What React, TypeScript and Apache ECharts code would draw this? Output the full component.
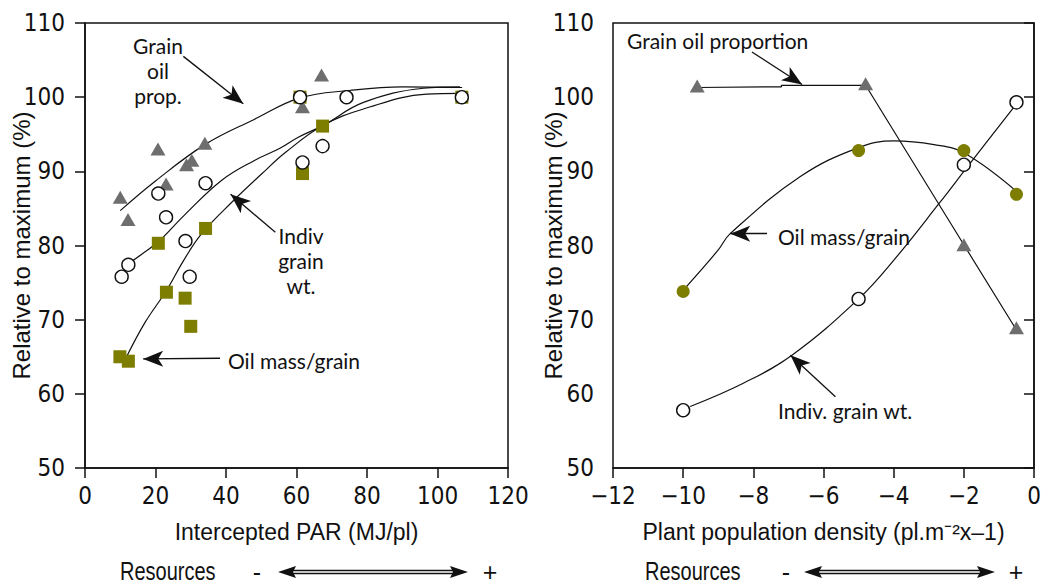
import React, { useEffect, useRef } from 'react';
import * as echarts from 'echarts';

// ---------- tick labels ----------
const leftXTicks = ['0', '20', '40', '60', '80', '100', '120'];
const rightXTicks = ['\u221212', '\u221210', '\u22128', '\u22126', '\u22124', '\u22122', '0'];
const yTicks = ['50', '60', '70', '80', '90', '100', '110'];

// ---------- left panel: intercepted PAR ----------
const parOilPropPts = [
  [10, 86.5], [12.2, 83.5], [20.7, 93], [23, 88.3], [28.8, 90.9], [30.3, 91.5],
  [34, 93.8], [61.7, 98.7], [67.1, 103],
];
const parGrainWtPts = [
  [10.4, 75.8], [12.3, 77.4], [20.8, 87], [23, 83.8], [28.5, 80.6], [29.7, 75.8],
  [34.2, 88.4], [61, 100], [74.2, 100], [61.7, 91.2], [67.4, 93.4], [106.9, 100],
];
const parOilMassPts = [
  [9.9, 65], [12.3, 64.4], [20.8, 80.3], [23.1, 73.7], [28.4, 72.9], [30, 69.1],
  [34.2, 82.3], [61, 100], [61.7, 89.7], [67.4, 96.1], [106.9, 100],
];
const parOilPropCurve = [
  [10, 84.7], [20, 88.7], [34, 93.6], [48, 97], [61, 99.9], [75, 100.9], [90, 101.4], [107, 101.3],
];
const parGrainWtCurve = [
  [11.3, 77.2], [16, 78.8], [20.8, 80.5], [28, 84], [38.8, 88.8], [48.2, 91.5],
  [55.3, 93.1], [60.5, 94.6], [67.6, 96.2], [79, 99.3], [96, 101.2], [106.4, 101.4],
];
const parOilMassCurve = [
  [11.8, 65], [17, 69.6], [23.2, 74], [28, 78], [33.1, 81.6], [42, 86], [50, 89.6],
  [57, 92.6], [67.6, 96.2], [79, 98.4], [96.9, 100.4], [106.4, 100.5],
];

// ---------- right panel: plant population density ----------
const densOilPropPts = [[-9.6, 101.5], [-4.8, 101.8], [-2, 80.1], [-0.5, 68.9]];
const densGrainWtPts = [[-10, 57.8], [-5, 72.8], [-2, 90.9], [-0.5, 99.3]];
const densOilMassPts = [[-10, 73.8], [-5, 92.8], [-2, 92.8], [-0.5, 86.9]];
const densOilPropCurve = [[-9.6, 101.3], [-7.2, 101.4], [-7.2, 101.6], [-4.8, 101.6], [-2, 80.1], [-0.5, 68.6]];
const densGrainWtCurve = [
  [-9.8, 58.3], [-8.3, 61.4], [-6.9, 65.2], [-5, 72.8], [-4, 78], [-2.7, 85.7], [-1.9, 90.6], [-0.5, 99.1],
];
const densOilMassCurve = [
  [-9.9, 74.5], [-9, 79.4], [-8.66, 81.6], [-6.66, 89.3], [-5, 93.2], [-4, 94.1],
  [-2.85, 93.6], [-2, 92.5], [-0.5, 87.3],
];

const NARROW = "'Liberation Sans Narrow', 'Arial Narrow', 'DejaVu Sans Condensed', sans-serif";
const SANS = "'Liberation Sans', Arial, sans-serif";
const HUMAN = "Lato, 'Open Sans', sans-serif";
const OLIVE = '#7d7d00';
const GRAY = '#6e6e6e';
const INK = '#111';

function arrowLine(x1: number, y1: number, x2: number, y2: number) {
  return [{ coord: [x1, y1] }, { coord: [x2, y2] }];
}

function resourcesArrow(xText: number, xMinus: number, x1: number, x2: number, xPlus: number, y: number) {
  const font = `25px ${SANS}`;
  const els: any[] = [
    { type: 'text', x: xText, y, scaleX: 0.8, style: { text: 'Resources', font, fill: INK, align: 'left', verticalAlign: 'middle' } },
    { type: 'text', x: xMinus, y, style: { text: '-', font, fill: INK, align: 'center', verticalAlign: 'middle' } },
    { type: 'text', x: xPlus, y, style: { text: '+', font, fill: INK, align: 'center', verticalAlign: 'middle' } },
    { type: 'line', shape: { x1: x1 + 12, y1: y - 1.5, x2: x2 - 12, y2: y - 1.5 }, style: { stroke: INK, lineWidth: 1.3 } },
    { type: 'line', shape: { x1: x1 + 12, y1: y + 1.5, x2: x2 - 12, y2: y + 1.5 }, style: { stroke: INK, lineWidth: 1.3 } },
    { type: 'polygon', shape: { points: [[x1, y], [x1 + 18, y - 6], [x1 + 15, y], [x1 + 18, y + 6]] }, style: { fill: INK } },
    { type: 'polygon', shape: { points: [[x2, y], [x2 - 18, y - 6], [x2 - 15, y], [x2 - 18, y + 6]] }, style: { fill: INK } },
  ];
  return els;
}

function annot(x: number, y: number, text: string, align: string) {
  return {
    type: 'text', x, y,
    style: { text, font: `21px ${HUMAN}`, fill: INK, align, verticalAlign: 'middle', lineHeight: 25 },
  };
}

export default function App() {
  const ref = useRef<HTMLDivElement>(null);
  useEffect(() => {
    if (!ref.current) return;
    const chart = echarts.init(ref.current, undefined, { renderer: 'svg' });
    const axisLine = { show: true, lineStyle: { color: INK, width: 1.5 } };
    const axisTick = { show: true, inside: false, length: 10, lineStyle: { color: INK, width: 1.5 } };
    const tickLabel = (labels: string[], min: number, step: number, margin: number) => ({
      show: true, margin, color: INK, fontSize: 24, fontFamily: NARROW,
      formatter: (v: number) => labels[Math.round((v - min) / step)] ?? String(v),
    });
    const curveStyle = { color: INK, width: 1.2 };
    const markArrow = (lines: any[]) => ({
      silent: true, symbol: ['none', 'arrow'], symbolSize: [12, 20],
      label: { show: false }, lineStyle: { color: INK, width: 1.3, type: 'solid' },
      emphasis: { disabled: true }, data: lines, animation: false,
    });
    const curve = (data: number[][], xi: number, smooth: boolean | number, mark?: any) => ({
      type: 'line', data, xAxisIndex: xi, yAxisIndex: xi, smooth, symbol: 'none',
      lineStyle: curveStyle, silent: true, z: 2, ...(mark ? { markLine: mark } : {}),
    });
    const scatter = (data: number[][], xi: number, symbol: string, size: any, fill: string, border?: string, z = 3) => ({
      type: 'scatter', data, xAxisIndex: xi, yAxisIndex: xi, symbol, symbolSize: size, z,
      itemStyle: { color: fill, borderColor: border ?? fill, borderWidth: border ? 1.4 : 0, opacity: 1 },
      silent: true,
    });

    const gridBase = {
      top: 23, height: 445, show: true, borderColor: INK, borderWidth: 1.5,
      backgroundColor: 'transparent', containLabel: false, outerBoundsMode: 'none',
    };

    chart.setOption({
      animation: false,
      backgroundColor: '#fff',
      grid: [
        { ...gridBase, left: 85, width: 423 },
        { ...gridBase, left: 613, width: 421 },
      ],
      xAxis: [
        {
          gridIndex: 0, type: 'value', min: 0, max: 120, interval: 20,
          name: 'Intercepted PAR (MJ/pl)', nameLocation: 'middle', nameGap: 52,
          nameTextStyle: { color: INK, fontSize: 23, fontFamily: SANS },
          axisLine, axisTick, axisLabel: tickLabel(leftXTicks, 0, 20, 16), splitLine: { show: false },
        },
        {
          gridIndex: 1, type: 'value', min: -12, max: 0, interval: 2,
          name: 'Plant population density (pl.m\u207B\u00B2x\u20131)', nameLocation: 'middle', nameGap: 52,
          nameTextStyle: { color: INK, fontSize: 23, fontFamily: SANS },
          axisLine, axisTick, axisLabel: tickLabel(rightXTicks, -12, 2, 16), splitLine: { show: false },
        },
      ],
      yAxis: [
        {
          gridIndex: 0, type: 'value', min: 50, max: 110, interval: 10,
          name: 'Relative to maximum (%)', nameLocation: 'middle', nameGap: 52, nameMoveOverlap: false,
          nameTextStyle: { color: INK, fontSize: 24, fontFamily: SANS },
          axisLine, axisTick, axisLabel: tickLabel(yTicks, 50, 10, 20), splitLine: { show: false },
        },
        {
          gridIndex: 1, type: 'value', min: 50, max: 110, interval: 10,
          name: 'Relative to maximum (%)', nameLocation: 'middle', nameGap: 48, nameMoveOverlap: false,
          nameTextStyle: { color: INK, fontSize: 24, fontFamily: SANS },
          axisLine, axisTick, axisLabel: tickLabel(yTicks, 50, 10, 19), splitLine: { show: false },
        },
      ],
      series: [
        curve(parOilPropCurve, 0, 0.4, markArrow([arrowLine(27.9, 105.5, 44.9, 99.1)])),
        curve(parGrainWtCurve, 0, 0.4, markArrow([arrowLine(54, 81.8, 41.3, 86.9)])),
        curve(parOilMassCurve, 0, 0.4, markArrow([arrowLine(38.3, 64.8, 16.5, 64.7)])),
        scatter(parOilMassPts, 0, 'rect', 13, OLIVE),
        scatter(parOilPropPts, 0, 'triangle', [15, 13], GRAY),
        scatter(parGrainWtPts, 0, 'circle', 13, '#fff', INK, 4),

        curve(densOilPropCurve, 1, false, markArrow([arrowLine(-8.04, 106.1, -6.61, 101.7)])),
        curve(densGrainWtCurve, 1, 0.4, markArrow([arrowLine(-5.66, 59.6, -6.94, 65.2)])),
        curve(densOilMassCurve, 1, 0.4, markArrow([arrowLine(-7.61, 81.6, -8.66, 81.6)])),
        scatter(densOilPropPts, 1, 'triangle', [15, 13], GRAY),
        scatter(densOilMassPts, 1, 'circle', 13, OLIVE),
        scatter(densGrainWtPts, 1, 'circle', 13, '#fff', INK, 4),
      ],
      graphic: [
        annot(158, 70, 'Grain\noil\nprop.', 'center'),
        annot(301, 260, 'Indiv\ngrain\nwt.', 'center'),
        annot(228, 360, 'Oil mass/grain', 'left'),
        annot(627, 40, 'Grain oil proportion', 'left'),
        annot(778, 236, 'Oil mass/grain', 'left'),
        annot(778, 410, 'Indiv. grain wt.', 'left'),
        ...resourcesArrow(120, 257, 278, 468, 490, 572),
        ...resourcesArrow(645, 786, 804, 995, 1016, 572),
      ],
    });
    return () => chart.dispose();
  }, []);
  return <div ref={ref} style={{ position: 'absolute', left: 0, top: 0, width: 1043, height: 588 }} />;
}
